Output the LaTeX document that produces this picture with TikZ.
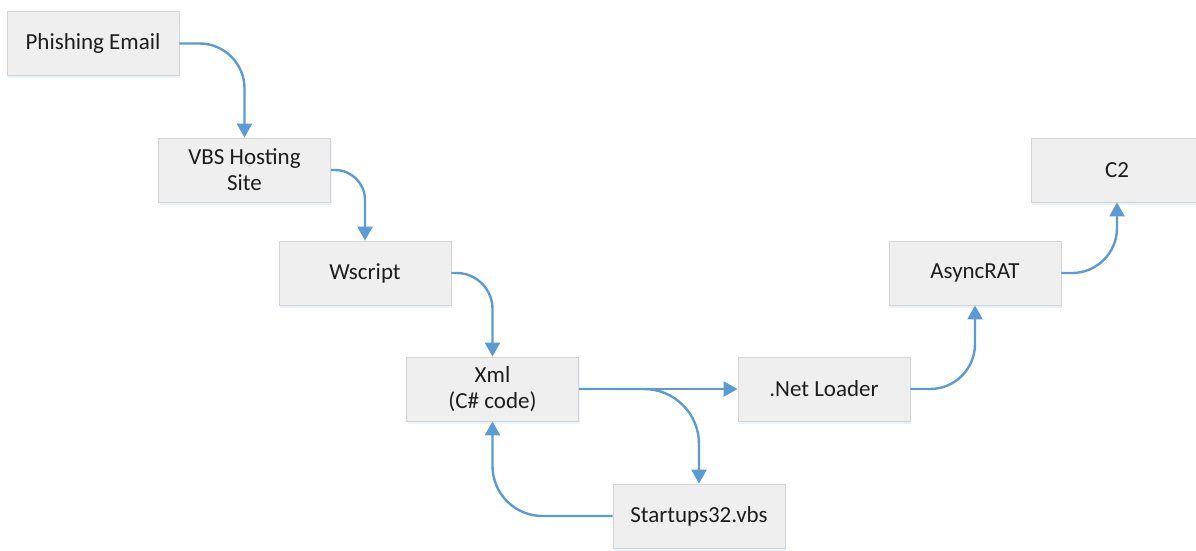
\documentclass[tikz,border=0pt]{standalone}
\usepackage{fontspec}
\setmainfont{Carlito}
\usetikzlibrary{arrows.meta,shadows}
\definecolor{boxfill}{HTML}{EFEFEF}
\definecolor{boxline}{HTML}{D4D4D4}
\definecolor{arrowblue}{HTML}{5B9BD5}
\definecolor{txt}{HTML}{1E1E1E}
\begin{document}
\begin{tikzpicture}[x=1pt,y=-1pt,
  box/.style={rectangle,draw=boxline,line width=0.8pt,fill=boxfill,
    minimum width=172pt,minimum height=64pt,align=center,text=txt,
    font=\fontsize{23}{26}\selectfont,
    drop shadow={shadow xshift=1pt,shadow yshift=-2.5pt,fill=arrowblue!25,opacity=0.5}},
  conn/.style={draw=arrowblue,line width=2.4pt,-{Triangle[width=15pt,length=14pt]}}]
\useasboundingbox (0,0) rectangle (1196,550);
\node[box] (pe) at (93,43.5) {Phishing Email};
\node[box] (vbs) at (244.5,170) {VBS Hosting\\Site};
\node[box] (ws) at (365,273) {Wscript};
\node[box] (xml) at (492.5,389) {Xml\\(C\# code)};
\node[box] (net) at (824,389) {.Net Loader};
\node[box] (su) at (699,516) {Startups32.vbs};
\node[box] (ar) at (975,273) {AsyncRAT};
\node[box] (c2) at (1117,170) {C2};
\draw[conn,rounded corners=45pt] (pe.east) -| (vbs.north);
\draw[conn,rounded corners=30pt] (vbs.east) -| (ws.north);
\draw[conn,rounded corners=36pt] (ws.east) -| (xml.north);
\draw[conn] (xml.east) -- (net.west);
\draw[conn,rounded corners=55pt] (xml.east) -| (su.north);
\draw[conn,rounded corners=50pt] (su.west) -| (xml.south);
\draw[conn,rounded corners=45pt] (net.east) -| (ar.south);
\draw[conn,rounded corners=45pt] (ar.east) -| (c2.south);
\end{tikzpicture}
\end{document}
